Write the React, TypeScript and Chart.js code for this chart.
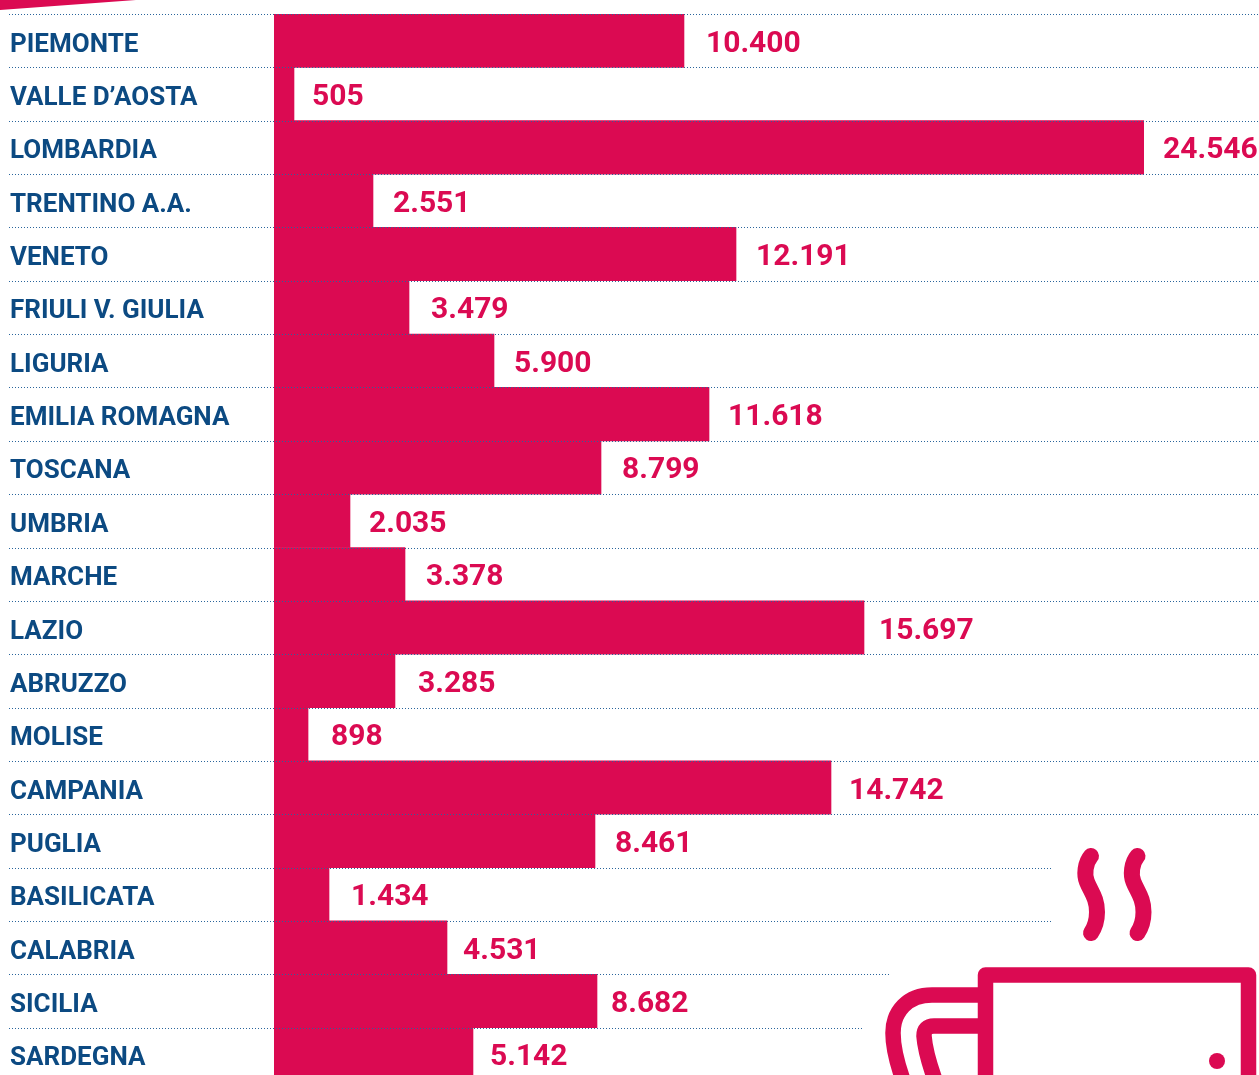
import React, { useEffect, useRef } from "react";
import { Chart, registerables } from "chart.js";

Chart.register(...registerables);

const regions = ["PIEMONTE", "VALLE D’AOSTA", "LOMBARDIA", "TRENTINO A.A.", "VENETO", "FRIULI V. GIULIA", "LIGURIA", "EMILIA ROMAGNA", "TOSCANA", "UMBRIA", "MARCHE", "LAZIO", "ABRUZZO", "MOLISE", "CAMPANIA", "PUGLIA", "BASILICATA", "CALABRIA", "SICILIA", "SARDEGNA"];
// Printed figures, exactly as the reference labels them.
const printedValues = ["10.400", "505", "24.546", "2.551", "12.191", "3.479", "5.900", "11.618", "8.799", "2.035", "3.378", "15.697", "3.285", "898", "14.742", "8.461", "1.434", "4.531", "8.682", "5.142"];
// Bar lengths as drawn in the reference, which are not strictly proportional to the printed figures.
const drawnLengths = [11567, 564, 24546, 2793, 13035, 3809, 6207, 12273, 9226, 2144, 3696, 16646, 3413, 960, 15715, 9056, 1552, 4881, 9113, 5614];
// Gap between each bar's end and its label (layout only).
const labelGaps = [22, 18, 19, 20, 20, 22, 20, 19, 21, 19, 21, 15, 23, 23, 18, 20, 22, 16, 14, 17];

const BAR = "#db0a52";
const NAVY = "#0c4a82";
const FONT = "Roboto";

const rowRules = {
  id: "rowRules",
  afterDatasetsDraw(chart: any) {
    const { ctx, scales } = chart;
    const y = scales.y;
    const half = (y.getPixelForTick(1) - y.getPixelForTick(0)) / 2;
    ctx.save();
    ctx.strokeStyle = "#2a659c";
    ctx.lineWidth = 1;
    ctx.setLineDash([1, 2]);
    regions.forEach((_, i) => {
      const py = Math.round(y.getPixelForTick(i) - half) + 0.5;
      let end = 1259;
      if (i === 16 || i === 17) end = 1051;
      if (i === 18) end = 891;
      if (i === 19) end = 862;
      ctx.beginPath();
      ctx.moveTo(9, py);
      ctx.lineTo(end, py);
      ctx.stroke();
    });
    ctx.restore();
  },
};

const valueLabels = {
  id: "valueLabels",
  afterDatasetsDraw(chart: any) {
    const { ctx } = chart;
    const bars = chart.getDatasetMeta(0).data;
    ctx.save();
    ctx.font = `700 30px ${FONT}`;
    ctx.fillStyle = BAR;
    ctx.textAlign = "left";
    ctx.textBaseline = "middle";
    bars.forEach((bar: any, i: number) => {
      ctx.fillText(printedValues[i], bar.x + labelGaps[i], bar.y + 3.5);
    });
    ctx.restore();
  },
};

export default function App() {
  const ref = useRef<HTMLCanvasElement>(null);
  useEffect(() => {
    document.body.style.margin = "0";
    const chart = new Chart(ref.current!, {
      type: "bar",
      data: {
        labels: regions,
        datasets: [{ data: drawnLengths, backgroundColor: BAR, categoryPercentage: 1, barPercentage: 1, borderWidth: 0 }],
      },
      options: {
        indexAxis: "y",
        animation: false,
        responsive: false,
        layout: { padding: { left: 10, right: 115, top: 14, bottom: 9 } },
        plugins: { legend: { display: false }, tooltip: { enabled: false } },
        scales: {
          x: { display: false, min: 0, max: 24546 },
          y: {
            afterFit(scale: any) { scale.width = 264; scale.paddingTop = 0; scale.paddingBottom = 0; },
            border: { display: false },
            grid: { display: false },
            ticks: { autoSkip: false, crossAlign: "far", labelOffset: 4.5, padding: 0, color: NAVY, font: { family: FONT, weight: 700, size: 26 } },
          },
        },
      },
      plugins: [rowRules, valueLabels],
    } as any);
    return () => chart.destroy();
  }, []);
  return (
    <div style={{ position: "relative", width: 1259, height: 1075, overflow: "hidden", background: "#fff" }}>
      <canvas ref={ref} width={1259} height={1090} style={{ display: "block" }} />
      <svg width={1259} height={1075} style={{ position: "absolute", left: 0, top: 0 }} fill="none" stroke={BAR}>
        <path d="M0 0H136L0 10Z" fill={BAR} stroke="none" />
        <path d="M985.5 1090V975H1248.5V1090" strokeWidth={15.5} strokeLinejoin="round" />
        <path d="M978 995H932C908 995 893 1011 893 1033C893 1048 897 1063 903 1080" strokeWidth={15.5} />
        <path d="M978 1026H934Q924 1026 924 1036C925 1050 929 1063 935 1080" strokeWidth={15.5} />
        <circle cx={1217} cy={1061} r={8} fill={BAR} stroke="none" />
        <path d="M1091 856C1085 863 1084 875 1087 882C1091 892 1097 898 1097 912C1097 922 1095 927 1091 933" strokeWidth={16} strokeLinecap="round" />
        <path d="M1137.500 856C1131.500 863 1130.500 875 1133.500 882C1137.500 892 1143.500 898 1143.500 912C1143.500 922 1141.500 927 1137.500 933" strokeWidth={16} strokeLinecap="round" />
      </svg>
    </div>
  );
}
